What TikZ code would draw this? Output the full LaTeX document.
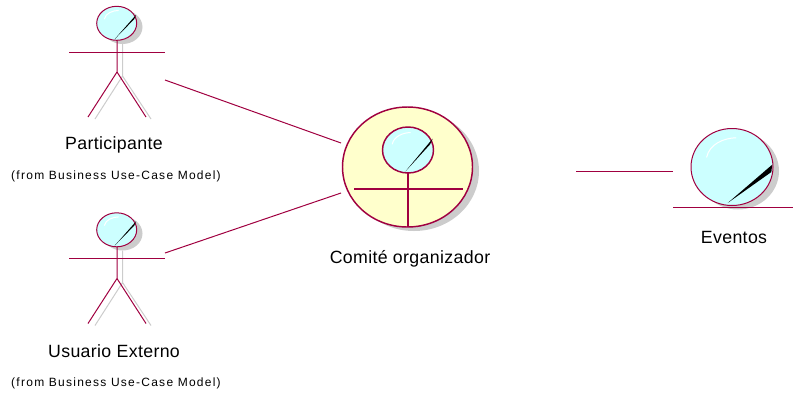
\documentclass[tikz,border=0pt]{standalone}
\usepackage{fontspec}
\setmainfont{Liberation Sans}
\definecolor{umlred}{HTML}{A00040}
\definecolor{umlcyan}{HTML}{CCFFFF}
\definecolor{umlyellow}{HTML}{FFFFCC}
\definecolor{umlshadow}{HTML}{CCCCCC}
\tikzset{
  umlline/.style={draw=umlred,line width=0.75pt},
  shadowline/.style={draw=umlshadow,line width=0.75pt},
  bigname/.style={font=\fontsize{13.3}{15}\selectfont\addfontfeature{LetterSpace=2},inner sep=0pt},
  fromname/.style={font=\fontsize{9}{10}\selectfont\addfontfeature{LetterSpace=10.5},inner sep=0pt},
}
\begin{document}
\begin{tikzpicture}[x=0.75pt,y=-0.75pt]
  \useasboundingbox (0,0) rectangle (793,394);

  %shadows
  \fill[umlshadow] (414,171) ellipse[x radius=65,y radius=60];
  \fill[umlshadow] (738,171) ellipse[x radius=41,y radius=38.5];

  %actors
  \foreach \y/\name in {0/part,206.5/usr}{
    \fill[umlshadow] (122.5,27+\y) ellipse[x radius=20,y radius=17];
    \draw[shadowline] (122.5,44+\y) -- (122.5,76+\y) (95,119+\y) -- (122.5,76+\y) -- (151,119+\y);
    \draw[umlline] (117,40+\y) -- (117,72+\y) (88,117+\y) -- (117,72+\y) -- (146,117+\y);
    \draw[umlline] (69,52+\y) -- (165,52+\y);
  }

  %boss and entity bodies
  \draw[umlred,line width=1.1pt,fill=umlyellow] (407.5,167) ellipse[x radius=65,y radius=60];
  \draw[umlred,line width=1.1pt] (354,189) -- (463,189) (408,173) -- (408,227);
  \draw[umlline,fill=umlcyan] (732,167) ellipse[x radius=41,y radius=38.5];

  %heads
  \foreach \x/\y/\rx/\ry/\lw in {116.7/23.3/20/17/.75, 116.7/229.8/20/17/.75, 408/150/25.5/23/1.1}{
    \draw[umlred,line width=\lw pt,fill=umlcyan] (\x,\y) ellipse[x radius=\rx,y radius=\ry];
  }
  \foreach \x/\y/\rx/\ry/\ax/\ay/\bx/\by in {
      116.7/23.3/20/17/.97/-.5/.88/-.25,
      116.7/229.8/20/17/.97/-.5/.88/-.25,
      408/150/25.5/23/.97/-.5/.87/-.25,
      732/167/41/38.5/.98/-.06/.96/.13}{
    \begin{scope}[shift={(\x,\y)},x=\rx*0.75pt,y=-\ry*0.75pt]
      \fill[black] (-.1,.93) -- (\ax,\ay) -- (\bx,\by) -- cycle;
      \draw[white,line width=0.75pt] (-.62,-.25) .. controls (-.55,-.6) and (-.2,-.75) .. (.1,-.76);
    \end{scope}
  }

  %entity base line
  \coordinate (entleft) at (673,207);
  \coordinate (entright) at (793,207);
  \draw[umlline] (entleft) -- (entright);

  %connectors
  \coordinate (bossa) at (341,143);
  \coordinate (bossb) at (341,193);
  \coordinate (parthand) at (165,80);
  \coordinate (usrhand) at (165,253);
  \coordinate (linka) at (576,171);
  \coordinate (linkb) at (673,171);
  \draw[umlline] (parthand) -- (bossa);
  \draw[umlline] (usrhand) -- (bossb);
  \draw[umlline] (linka) -- (linkb);

  %labels
  \node[bigname] (partlabel) at (114,145) {Participante};
  \node[fromname] (partfrom) at (116,176) {(f\kern1pt rom Business Use-Case Model)};
  \node[bigname] (usrlabel) at (114,351) {Usuario Externo};
  \node[fromname] (usrfrom) at (116,383) {(f\kern1pt rom Business Use-Case Model)};
  \node[bigname] (bosslabel) at (410,259) {Comité organizador};
  \node[bigname] (entlabel) at (734,237) {Eventos};
\end{tikzpicture}
\end{document}
